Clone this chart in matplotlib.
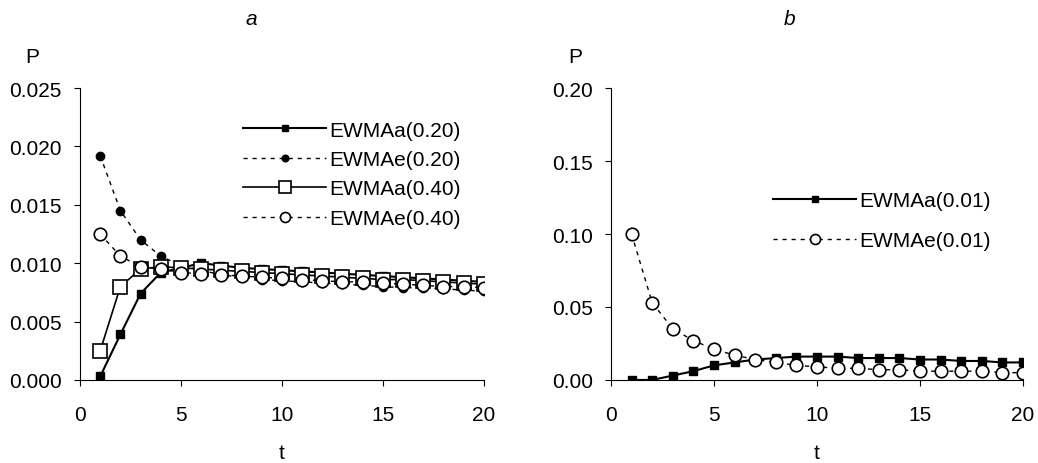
import numpy as np
import matplotlib.pyplot as plt

plt.rcParams['font.family'] = ['Liberation Sans', 'DejaVu Sans']

t = np.arange(1, 21)

# panel a
ewma_a_020 = [0.0003, 0.0039, 0.0074, 0.0092, 0.0096, 0.0100, 0.0098, 0.0096, 0.0095, 0.0094,
              0.0093, 0.0092, 0.0091, 0.0090, 0.0089, 0.0088, 0.0087, 0.0086, 0.0085, 0.0084]
ewma_e_020 = [0.0192, 0.0145, 0.0120, 0.0106, 0.0098, 0.0094, 0.0090, 0.0088, 0.0086, 0.0085,
              0.0084, 0.0083, 0.0082, 0.0081, 0.0080, 0.0079, 0.0079, 0.0078, 0.0077, 0.0076]
ewma_a_040 = [0.0025, 0.0080, 0.0095, 0.0097, 0.0096, 0.0095, 0.0094, 0.0093, 0.0092, 0.0091,
              0.0090, 0.0089, 0.0088, 0.0087, 0.0086, 0.0086, 0.0085, 0.0084, 0.0083, 0.0082]
ewma_e_040 = [0.0125, 0.0106, 0.0097, 0.0095, 0.0092, 0.0091, 0.0090, 0.0089, 0.0088, 0.0087,
              0.0086, 0.0085, 0.0084, 0.0084, 0.0083, 0.0082, 0.0081, 0.0080, 0.0080, 0.0079]

# panel b
ewma_a_001 = [0.000, 0.000, 0.003, 0.006, 0.010, 0.012, 0.014, 0.015, 0.016, 0.016,
              0.016, 0.015, 0.015, 0.015, 0.014, 0.014, 0.013, 0.013, 0.012, 0.012]
ewma_e_001 = [0.100, 0.053, 0.035, 0.027, 0.021, 0.017, 0.014, 0.012, 0.010, 0.009,
              0.008, 0.008, 0.007, 0.007, 0.006, 0.006, 0.006, 0.006, 0.005, 0.005]

FS = 15
DASH = (3, 3.5)

fig = plt.figure(figsize=(10.38, 4.64), dpi=100)
ax1 = fig.add_axes([0.0771, 0.179, 0.389, 0.629])
ax2 = fig.add_axes([0.5886, 0.179, 0.397, 0.629])

for ax in (ax1, ax2):
    ax.spines['top'].set_visible(False)
    ax.spines['right'].set_visible(False)
    ax.set_xlim(0, 20)
    ax.set_xticks([0, 5, 10, 15, 20])
    ax.tick_params(labelsize=FS, direction='out', length=4)
    ax.tick_params(axis='x', pad=14)
    ax.tick_params(axis='y', pad=9)
    ax.set_xlabel('t', fontsize=FS, labelpad=14)

# --- panel a ---
ax1.plot(t, ewma_a_020, 'k-', marker='s', ms=6, lw=1.5, label='EWMAa(0.20)')
ax1.plot(t, ewma_e_020, 'k--', marker='o', ms=6, lw=1, dashes=DASH, label='EWMAe(0.20)')
ax1.plot(t, ewma_a_040, 'k-', marker='s', ms=10, mfc='white', mew=1.2, lw=1.2, label='EWMAa(0.40)')
ax1.plot(t, ewma_e_040, 'k--', marker='o', ms=9, mfc='white', mew=1.2, lw=1, dashes=DASH, label='EWMAe(0.40)')
ax1.set_ylim(0, 0.025)
yt_a = np.arange(0, 0.0251, 0.005)
ax1.set_yticks(yt_a)
ax1.set_yticklabels([f'{v:.3f}' for v in yt_a])
ax1.legend(loc='upper left', bbox_to_anchor=(0.234, 0.738), bbox_transform=fig.transFigure,
           frameon=False, fontsize=FS, handlelength=4.0, labelspacing=0.5,
           handletextpad=0.15, borderpad=0, borderaxespad=0, markerscale=0.8)

# --- panel b ---
ax2.plot(t, ewma_a_001, 'k-', marker='s', ms=6, lw=1.5, label='EWMAa(0.01)')
ax2.plot(t, ewma_e_001, 'k--', marker='o', ms=9, mfc='white', mew=1.2, lw=1, dashes=DASH, label='EWMAe(0.01)')
ax2.set_ylim(0, 0.20)
yt_b = np.arange(0, 0.201, 0.05)
ax2.set_yticks(yt_b)
ax2.set_yticklabels([f'{v:.2f}' for v in yt_b])
ax2.legend(loc='upper left', bbox_to_anchor=(0.7447, 0.5855), bbox_transform=fig.transFigure,
           frameon=False, fontsize=FS, handlelength=4.0, labelspacing=1.0,
           handletextpad=0.15, borderpad=0, borderaxespad=0, markerscale=0.8)

# panel letters and axis names
fig.text(0.242, 0.957, 'a', fontsize=FS, style='italic', ha='center', va='center')
fig.text(0.761, 0.957, 'b', fontsize=FS, style='italic', ha='center', va='center')
fig.text(0.031, 0.877, 'P', fontsize=FS, ha='center', va='center')
fig.text(0.554, 0.877, 'P', fontsize=FS, ha='center', va='center')

fig.savefig('out.png', dpi=100)
